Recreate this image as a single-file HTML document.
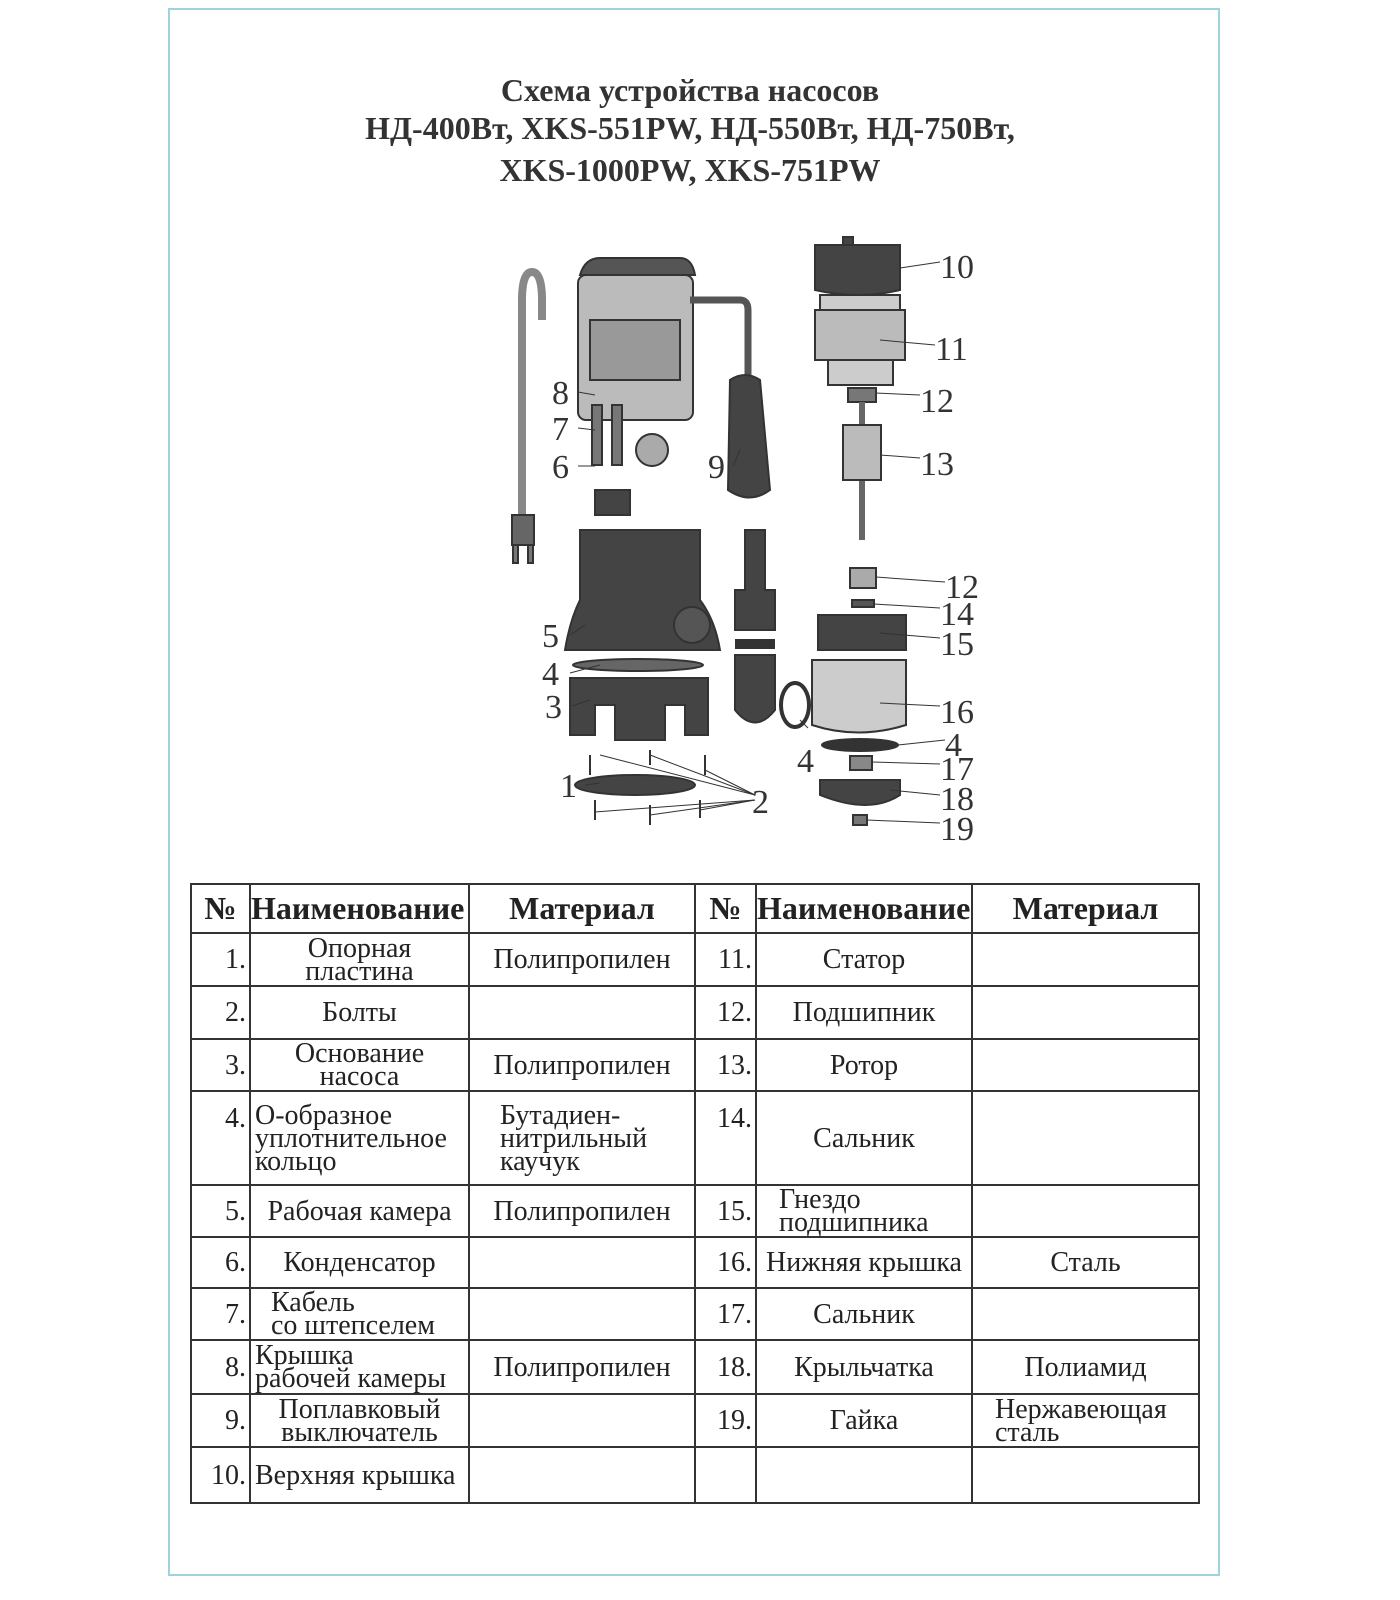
<!DOCTYPE html>
<html><head><meta charset="utf-8"><style>
body{margin:0;width:1400px;height:1600px;background:#fff;position:relative;overflow:hidden;font-family:"Liberation Serif",serif;color:#222}
.frame{position:absolute;left:168px;top:8px;width:1052px;height:1568px;border:2px solid #9fd3dc;box-sizing:border-box}
.title{position:absolute;left:240px;width:900px;text-align:center;font-weight:bold;font-size:32px;color:#333;white-space:nowrap}
table{position:absolute;left:190px;top:883px;border-collapse:collapse;font-size:28px;table-layout:fixed}
td{border:2px solid #333;padding:0;text-align:center;line-height:23px;vertical-align:middle;white-space:nowrap;overflow:hidden}
td.n{text-align:right;padding-right:3px}
th{border:2px solid #333;font-size:32px;font-weight:bold;white-space:nowrap;overflow:hidden;padding:0}
.l{text-align:left;padding-left:4px}
</style></head><body>
<div class="frame"></div>
<div class="title" style="top:72px">Схема устройства насосов</div>
<div class="title" style="top:110px">НД-400Вт, XKS-551PW, НД-550Вт, НД-750Вт,</div>
<div class="title" style="top:152px">XKS-1000PW, XKS-751PW</div>

<svg width="1400" height="900" style="position:absolute;left:0;top:0" font-family="Liberation Serif" font-size="34" fill="#333">
<g stroke="#333" stroke-width="2">
<path d="M522 520 V300 Q522 272 532 272 Q542 272 542 300 V320" fill="none" stroke="#888" stroke-width="8"/>
<rect x="512" y="515" width="22" height="30" fill="#666"/>
<rect x="513" y="545" width="5" height="18" fill="#777"/><rect x="528" y="545" width="5" height="18" fill="#777"/>
<path d="M580 275 Q585 258 600 258 H680 Q692 258 695 275 Z" fill="#555"/>
<rect x="578" y="275" width="115" height="145" rx="8" fill="#bbb"/>
<rect x="590" y="320" width="90" height="60" fill="#999"/>
<path d="M690 300 H740 Q748 300 748 310 V380" fill="none" stroke="#555" stroke-width="7"/>
<rect x="592" y="405" width="10" height="60" fill="#777"/><rect x="612" y="405" width="10" height="60" fill="#777"/>
<circle cx="652" cy="450" r="16" fill="#aaa"/>
<rect x="595" y="490" width="35" height="25" fill="#444"/>
<path d="M730 380 Q745 370 760 380 L770 490 Q750 505 728 490 Z" fill="#444"/>
<path d="M580 530 H700 V600 Q715 620 720 650 H565 Q570 620 580 600 Z" fill="#444"/>
<circle cx="692" cy="625" r="18" fill="#555"/>
<ellipse cx="638" cy="665" rx="65" ry="6" fill="#666"/>
<path d="M570 678 H708 V735 H685 V705 H665 V740 H615 V705 H595 V735 H570 Z" fill="#444"/>
<ellipse cx="635" cy="785" rx="60" ry="10" fill="#444"/>
<line x1="590" y1="755" x2="590" y2="775"/><line x1="705" y1="755" x2="705" y2="775"/><line x1="650" y1="750" x2="650" y2="765"/>
<line x1="595" y1="800" x2="595" y2="820"/><line x1="650" y1="805" x2="650" y2="825"/><line x1="700" y1="800" x2="700" y2="818"/>
<path d="M745 530 H765 V590 H775 V630 H735 V590 H745 Z" fill="#444"/>
<rect x="736" y="640" width="38" height="8" fill="#333"/>
<path d="M735 655 H775 V710 Q755 735 735 710 Z" fill="#444"/>
<ellipse cx="795" cy="705" rx="14" ry="22" fill="none" stroke-width="4"/>
<rect x="843" y="237" width="10" height="8" fill="#444"/>
<path d="M815 245 H900 V290 Q858 300 815 290 Z" fill="#444"/>
<rect x="820" y="295" width="80" height="15" fill="#ccc"/>
<rect x="815" y="310" width="90" height="50" fill="#bbb"/>
<rect x="828" y="360" width="65" height="25" fill="#ccc"/>
<rect x="848" y="388" width="28" height="14" fill="#777"/>
<line x1="862" y1="402" x2="862" y2="540" stroke="#666" stroke-width="6"/>
<rect x="843" y="425" width="38" height="55" fill="#bbb"/>
<rect x="850" y="568" width="26" height="20" fill="#aaa"/>
<rect x="852" y="600" width="22" height="7" fill="#555"/>
<rect x="818" y="615" width="88" height="35" fill="#444"/>
<path d="M812 660 H906 V725 Q858 740 812 725 Z" fill="#ccc"/>
<ellipse cx="860" cy="745" rx="38" ry="6" fill="#333"/>
<rect x="850" y="756" width="22" height="14" fill="#888"/>
<path d="M820 780 H900 V795 Q870 815 820 795 Z" fill="#444"/>
<rect x="853" y="815" width="14" height="10" fill="#777"/>
</g>
<g stroke="#333" stroke-width="1">
<line x1="578" y1="392" x2="595" y2="395"/><line x1="578" y1="428" x2="595" y2="430"/>
<line x1="578" y1="466" x2="595" y2="466"/><line x1="733" y1="466" x2="740" y2="450"/>
<line x1="570" y1="635" x2="585" y2="625"/><line x1="570" y1="673" x2="600" y2="665"/>
<line x1="572" y1="706" x2="590" y2="700"/><line x1="585" y1="785" x2="600" y2="783"/>
<line x1="755" y1="795" x2="600" y2="755"/><line x1="755" y1="795" x2="650" y2="755"/><line x1="755" y1="795" x2="705" y2="770"/>
<line x1="755" y1="800" x2="595" y2="812"/><line x1="755" y1="800" x2="650" y2="815"/><line x1="755" y1="800" x2="700" y2="810"/>
<line x1="940" y1="262" x2="900" y2="268"/><line x1="935" y1="345" x2="880" y2="340"/>
<line x1="920" y1="395" x2="875" y2="393"/><line x1="920" y1="458" x2="880" y2="455"/>
<line x1="945" y1="582" x2="876" y2="577"/><line x1="940" y1="608" x2="874" y2="604"/>
<line x1="940" y1="638" x2="880" y2="633"/><line x1="940" y1="706" x2="880" y2="703"/>
<line x1="945" y1="740" x2="898" y2="745"/><line x1="940" y1="764" x2="872" y2="762"/>
<line x1="940" y1="795" x2="890" y2="790"/><line x1="940" y1="823" x2="867" y2="820"/>
<line x1="808" y1="728" x2="800" y2="720"/>
</g>
<g>
<text x="940" y="278">10</text><text x="935" y="360">11</text><text x="920" y="412">12</text><text x="920" y="475">13</text>
<text x="945" y="598">12</text><text x="940" y="625">14</text><text x="940" y="655">15</text><text x="940" y="723">16</text>
<text x="945" y="756">4</text><text x="940" y="780">17</text><text x="940" y="810">18</text><text x="940" y="840">19</text>
<text x="552" y="404">8</text><text x="552" y="440">7</text><text x="552" y="478">6</text><text x="708" y="478">9</text>
<text x="542" y="647">5</text><text x="542" y="685">4</text><text x="545" y="718">3</text><text x="797" y="772">4</text>
<text x="560" y="797">1</text><text x="752" y="813">2</text>
</g>
</svg>

<table>
<colgroup><col style="width:59px"><col style="width:219px"><col style="width:226px"><col style="width:61px"><col style="width:216px"><col style="width:227px"></colgroup>
<tr style="height:49px"><th>№</th><th style="text-align:left">Наименование</th><th>Материал</th><th>№</th><th style="text-align:left">Наименование</th><th>Материал</th></tr>
<tr style="height:53px"><td class="n">1.</td><td>Опорная<br>пластина</td><td>Полипропилен</td><td class="n">11.</td><td>Статор</td><td></td></tr>
<tr style="height:53px"><td class="n">2.</td><td>Болты</td><td></td><td class="n">12.</td><td>Подшипник</td><td></td></tr>
<tr style="height:52px"><td class="n">3.</td><td>Основание<br>насоса</td><td>Полипропилен</td><td class="n">13.</td><td>Ротор</td><td></td></tr>
<tr style="height:94px"><td class="n" style="vertical-align:top;padding-top:15px">4.</td><td class="l">О-образное<br>уплотнительное<br>кольцо</td><td class="l" style="padding-left:30px">Бутадиен-<br>нитрильный<br>каучук</td><td class="n" style="vertical-align:top;padding-top:15px">14.</td><td>Сальник</td><td></td></tr>
<tr style="height:52px"><td class="n">5.</td><td>Рабочая камера</td><td>Полипропилен</td><td class="n">15.</td><td class="l" style="padding-left:22px">Гнездо<br>подшипника</td><td></td></tr>
<tr style="height:51px"><td class="n">6.</td><td>Конденсатор</td><td></td><td class="n">16.</td><td>Нижняя крышка</td><td>Сталь</td></tr>
<tr style="height:52px"><td class="n">7.</td><td class="l" style="padding-left:20px">Кабель<br>со штепселем</td><td></td><td class="n">17.</td><td>Сальник</td><td></td></tr>
<tr style="height:54px"><td class="n">8.</td><td class="l">Крышка<br>рабочей камеры</td><td>Полипропилен</td><td class="n">18.</td><td>Крыльчатка</td><td>Полиамид</td></tr>
<tr style="height:53px"><td class="n">9.</td><td>Поплавковый<br>выключатель</td><td></td><td class="n">19.</td><td>Гайка</td><td class="l" style="padding-left:22px">Нержавеющая<br>сталь</td></tr>
<tr style="height:56px"><td class="n">10.</td><td class="l">Верхняя крышка</td><td></td><td></td><td></td><td></td></tr>
</table>
</body></html>
